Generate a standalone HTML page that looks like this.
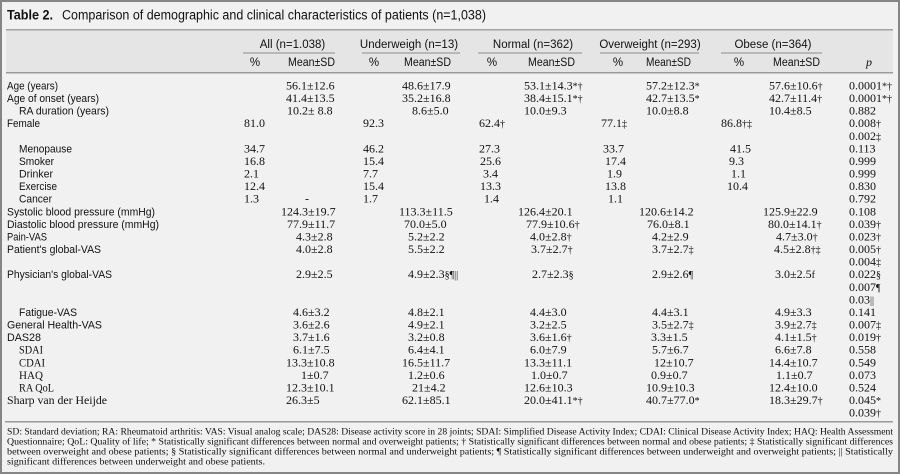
<!DOCTYPE html>
<html><head><meta charset="utf-8">
<style>
html,body{margin:0;padding:0;background:#f1f1f1;}
svg{display:block;}
.n{font-family:"Liberation Serif",serif;font-size:12px;fill:#111;}
.l{font-family:"Liberation Sans",sans-serif;font-size:11px;fill:#111;}
.ls{font-family:"Liberation Serif",serif;font-size:12px;fill:#111;}
.h{font-family:"Liberation Sans",sans-serif;font-size:11.5px;fill:#111;}
.m{font-size:10px;}
.f{font-family:"Liberation Serif",serif;font-size:9px;fill:#111;}
</style></head><body>
<svg width="900" height="474" viewBox="0 0 900 474" xmlns="http://www.w3.org/2000/svg">
<rect x="0" y="0" width="900" height="474" fill="#f1f1f1"/>
<rect x="1" y="1" width="898" height="472" fill="none" stroke="#858585" stroke-width="2"/>

<!-- title -->
<text x="7" y="19.5" font-family="Liberation Sans, sans-serif" font-weight="bold" font-size="13.5" fill="#111" textLength="46" lengthAdjust="spacingAndGlyphs">Table 2.</text>
<text x="62" y="19.5" font-family="Liberation Sans, sans-serif" font-size="13.5" fill="#111" textLength="424" lengthAdjust="spacingAndGlyphs">Comparison of demographic and clinical characteristics of patients (n=1,038)</text>

<!-- header band -->
<rect x="6" y="29" width="887" height="44" fill="#e5e5e6"/>
<rect x="6" y="29" width="887" height="1.5" fill="#a3a3a3"/>
<rect x="6" y="72" width="887" height="1.5" fill="#9a9a9a"/>

<text class="h" x="292.5" y="48" text-anchor="middle">All (n=1.038)</text>
<text class="h" x="409" y="48" text-anchor="middle">Underweigh (n=13)</text>
<text class="h" x="533" y="48" text-anchor="middle">Normal (n=362)</text>
<text class="h" x="650" y="48" text-anchor="middle">Overweight (n=293)</text>
<text class="h" x="773" y="48" text-anchor="middle">Obese (n=364)</text>

<rect x="243" y="52.5" width="92" height="1" fill="#8a8a8a"/>
<rect x="362" y="52.5" width="98" height="1" fill="#8a8a8a"/>
<rect x="478" y="52.5" width="104" height="1" fill="#8a8a8a"/>
<rect x="600" y="52.5" width="99" height="1" fill="#8a8a8a"/>
<rect x="721" y="52.5" width="101" height="1" fill="#8a8a8a"/>

<g class="h">
<text class="h" x="255" y="66" text-anchor="middle">%</text>
<text class="h" x="374" y="66" text-anchor="middle">%</text>
<text class="h" x="492" y="66" text-anchor="middle">%</text>
<text class="h" x="618" y="66" text-anchor="middle">%</text>
<text class="h" x="739" y="66" text-anchor="middle">%</text>
<text class="h" x="288" y="66" textLength="47" lengthAdjust="spacingAndGlyphs">Mean±SD</text>
<text class="h" x="404" y="66" textLength="47" lengthAdjust="spacingAndGlyphs">Mean±SD</text>
<text class="h" x="528" y="66" textLength="47" lengthAdjust="spacingAndGlyphs">Mean±SD</text>
<text class="h" x="646" y="66" textLength="45" lengthAdjust="spacingAndGlyphs">Mean±SD</text>
<text class="h" x="773" y="66" textLength="47" lengthAdjust="spacingAndGlyphs">Mean±SD</text>
</g>
<text x="869" y="66" text-anchor="middle" font-family="Liberation Serif, serif" font-style="italic" font-size="12" fill="#111">p</text>

<!-- rows -->
<g transform="translate(0,89.5)">
<text class="l" x="7" y="0" textLength="51" lengthAdjust="spacingAndGlyphs">Age (years)</text>
<text class="n" x="286" y="0">56.1±12.6</text>
<text class="n" x="402" y="0">48.6±17.9</text>
<text class="n" x="524" y="0">53.1±14.3<tspan class="m">*†</tspan></text>
<text class="n" x="646" y="0">57.2±12.3<tspan class="m">*</tspan></text>
<text class="n" x="769" y="0">57.6±10.6<tspan class="m">†</tspan></text>
<text class="n" x="849" y="0">0.0001<tspan class="m">*†</tspan></text>
</g>
<g transform="translate(0,102.08)">
<text class="l" x="7" y="0" textLength="92" lengthAdjust="spacingAndGlyphs">Age of onset (years)</text>
<text class="n" x="286" y="0">41.4±13.5</text>
<text class="n" x="402" y="0">35.2±16.8</text>
<text class="n" x="524" y="0">38.4±15.1<tspan class="m">*†</tspan></text>
<text class="n" x="646" y="0">42.7±13.5<tspan class="m">*</tspan></text>
<text class="n" x="769" y="0">42.7±11.4<tspan class="m">†</tspan></text>
<text class="n" x="849" y="0">0.0001<tspan class="m">*†</tspan></text>
</g>
<g transform="translate(0,114.66)">
<text class="l" x="19" y="0" textLength="90" lengthAdjust="spacingAndGlyphs">RA duration (years)</text>
<text class="n" x="287" y="0" xml:space="preserve">10.2± 8.8</text>
<text class="n" x="412" y="0">8.6±5.0</text>
<text class="n" x="524" y="0">10.0±9.3</text>
<text class="n" x="646" y="0">10.0±8.8</text>
<text class="n" x="769" y="0">10.4±8.5</text>
<text class="n" x="849" y="0">0.882</text>
</g>
<g transform="translate(0,127.24)">
<text class="l" x="7" y="0" textLength="33" lengthAdjust="spacingAndGlyphs">Female</text>
<text class="n" x="244" y="0">81.0</text>
<text class="n" x="363" y="0">92.3</text>
<text class="n" x="479" y="0">62.4<tspan class="m">†</tspan></text>
<text class="n" x="601" y="0">77.1<tspan class="m">‡</tspan></text>
<text class="n" x="721" y="0">86.8<tspan class="m">†‡</tspan></text>
<text class="n" x="849" y="0">0.008<tspan class="m">†</tspan></text>
</g>
<g transform="translate(0,139.82)">
<text class="n" x="849" y="0">0.002<tspan class="m">‡</tspan></text>
</g>
<g transform="translate(0,152.4)">
<text class="l" x="19" y="0" textLength="53" lengthAdjust="spacingAndGlyphs">Menopause</text>
<text class="n" x="244" y="0">34.7</text>
<text class="n" x="363" y="0">46.2</text>
<text class="n" x="479" y="0">27.3</text>
<text class="n" x="603" y="0">33.7</text>
<text class="n" x="730" y="0">41.5</text>
<text class="n" x="849" y="0">0.113</text>
</g>
<g transform="translate(0,164.98)">
<text class="l" x="19" y="0" textLength="35" lengthAdjust="spacingAndGlyphs">Smoker</text>
<text class="n" x="244" y="0">16.8</text>
<text class="n" x="363" y="0">15.4</text>
<text class="n" x="480" y="0">25.6</text>
<text class="n" x="605" y="0">17.4</text>
<text class="n" x="729" y="0">9.3</text>
<text class="n" x="849" y="0">0.999</text>
</g>
<g transform="translate(0,177.56)">
<text class="l" x="19" y="0" textLength="34" lengthAdjust="spacingAndGlyphs">Drinker</text>
<text class="n" x="244" y="0">2.1</text>
<text class="n" x="363" y="0">7.7</text>
<text class="n" x="483" y="0">3.4</text>
<text class="n" x="607" y="0">1.9</text>
<text class="n" x="731" y="0">1.1</text>
<text class="n" x="849" y="0">0.999</text>
</g>
<g transform="translate(0,190.14)">
<text class="l" x="19" y="0" textLength="38" lengthAdjust="spacingAndGlyphs">Exercise</text>
<text class="n" x="244" y="0">12.4</text>
<text class="n" x="363" y="0">15.4</text>
<text class="n" x="480" y="0">13.3</text>
<text class="n" x="605" y="0">13.8</text>
<text class="n" x="727" y="0">10.4</text>
<text class="n" x="849" y="0">0.830</text>
</g>
<g transform="translate(0,202.72)">
<text class="l" x="19" y="0" textLength="33" lengthAdjust="spacingAndGlyphs">Cancer</text>
<text class="n" x="244" y="0">1.3</text>
<text class="n" x="305" y="0">-</text>
<text class="n" x="363" y="0">1.7</text>
<text class="n" x="484" y="0">1.4</text>
<text class="n" x="608" y="0">1.1</text>
<text class="n" x="849" y="0">0.792</text>
</g>
<g transform="translate(0,215.3)">
<text class="l" x="7" y="0" textLength="148" lengthAdjust="spacingAndGlyphs">Systolic blood pressure (mmHg)</text>
<text class="n" x="281" y="0">124.3±19.7</text>
<text class="n" x="399" y="0">113.3±11.5</text>
<text class="n" x="518" y="0">126.4±20.1</text>
<text class="n" x="639" y="0">120.6±14.2</text>
<text class="n" x="763" y="0">125.9±22.9</text>
<text class="n" x="849" y="0">0.108</text>
</g>
<g transform="translate(0,227.88)">
<text class="l" x="7" y="0" textLength="152" lengthAdjust="spacingAndGlyphs">Diastolic blood pressure (mmHg)</text>
<text class="n" x="287" y="0">77.9±11.7</text>
<text class="n" x="404" y="0">70.0±5.0</text>
<text class="n" x="526" y="0">77.9±10.6<tspan class="m">†</tspan></text>
<text class="n" x="647" y="0">76.0±8.1</text>
<text class="n" x="768" y="0">80.0±14.1<tspan class="m">†</tspan></text>
<text class="n" x="849" y="0">0.039<tspan class="m">†</tspan></text>
</g>
<g transform="translate(0,240.46)">
<text class="l" x="7" y="0" textLength="40" lengthAdjust="spacingAndGlyphs">Pain-VAS</text>
<text class="n" x="296" y="0">4.3±2.8</text>
<text class="n" x="408" y="0">5.2±2.2</text>
<text class="n" x="530" y="0">4.0±2.8<tspan class="m">†</tspan></text>
<text class="n" x="652" y="0">4.2±2.9</text>
<text class="n" x="776" y="0">4.7±3.0<tspan class="m">†</tspan></text>
<text class="n" x="849" y="0">0.023<tspan class="m">†</tspan></text>
</g>
<g transform="translate(0,253.04)">
<text class="l" x="7" y="0" textLength="94" lengthAdjust="spacingAndGlyphs">Patient's global-VAS</text>
<text class="n" x="296" y="0">4.0±2.8</text>
<text class="n" x="408" y="0">5.5±2.2</text>
<text class="n" x="531" y="0">3.7±2.7<tspan class="m">†</tspan></text>
<text class="n" x="652" y="0">3.7±2.7<tspan class="m">‡</tspan></text>
<text class="n" x="774" y="0">4.5±2.8<tspan class="m">†‡</tspan></text>
<text class="n" x="849" y="0">0.005<tspan class="m">†</tspan></text>
</g>
<g transform="translate(0,265.62)">
<text class="n" x="849" y="0">0.004<tspan class="m">‡</tspan></text>
</g>
<g transform="translate(0,278.2)">
<text class="l" x="7" y="0" textLength="105" lengthAdjust="spacingAndGlyphs">Physician's global-VAS</text>
<text class="n" x="296" y="0">2.9±2.5</text>
<text class="n" x="408" y="0">4.9±2.3<tspan class="m">§¶||</tspan></text>
<text class="n" x="532" y="0">2.7±2.3<tspan class="m">§</tspan></text>
<text class="n" x="652" y="0">2.9±2.6<tspan class="m">¶</tspan></text>
<text class="n" x="775" y="0">3.0±2.5<tspan class="m">f</tspan></text>
<text class="n" x="849" y="0">0.022<tspan class="m">§</tspan></text>
</g>
<g transform="translate(0,290.78)">
<text class="n" x="849" y="0">0.007<tspan class="m">¶</tspan></text>
</g>
<g transform="translate(0,303.36)">
<text class="n" x="849" y="0">0.03<tspan class="m">||</tspan></text>
</g>
<g transform="translate(0,315.94)">
<text class="l" x="19" y="0" textLength="58" lengthAdjust="spacingAndGlyphs">Fatigue-VAS</text>
<text class="n" x="293" y="0">4.6±3.2</text>
<text class="n" x="408" y="0">4.8±2.1</text>
<text class="n" x="530" y="0">4.4±3.0</text>
<text class="n" x="652" y="0">4.4±3.1</text>
<text class="n" x="775" y="0">4.9±3.3</text>
<text class="n" x="849" y="0">0.141</text>
</g>
<g transform="translate(0,328.52)">
<text class="l" x="7" y="0" textLength="95" lengthAdjust="spacingAndGlyphs">General Health-VAS</text>
<text class="n" x="293" y="0">3.6±2.6</text>
<text class="n" x="408" y="0">4.9±2.1</text>
<text class="n" x="530" y="0">3.2±2.5</text>
<text class="n" x="652" y="0">3.5±2.7<tspan class="m">‡</tspan></text>
<text class="n" x="775" y="0">3.9±2.7<tspan class="m">‡</tspan></text>
<text class="n" x="849" y="0">0.007<tspan class="m">‡</tspan></text>
</g>
<g transform="translate(0,341.1)">
<text class="l" x="7" y="0" textLength="34" lengthAdjust="spacingAndGlyphs">DAS28</text>
<text class="n" x="293" y="0">3.7±1.6</text>
<text class="n" x="408" y="0">3.2±0.8</text>
<text class="n" x="530" y="0">3.6±1.6<tspan class="m">†</tspan></text>
<text class="n" x="651" y="0">3.3±1.5</text>
<text class="n" x="775" y="0">4.1±1.5<tspan class="m">†</tspan></text>
<text class="n" x="849" y="0">0.019<tspan class="m">†</tspan></text>
</g>
<g transform="translate(0,353.68)">
<text class="ls" x="19" y="0" textLength="24" lengthAdjust="spacingAndGlyphs">SDAI</text>
<text class="n" x="293" y="0">6.1±7.5</text>
<text class="n" x="408" y="0">6.4±4.1</text>
<text class="n" x="530" y="0">6.0±7.9</text>
<text class="n" x="652" y="0">5.7±6.7</text>
<text class="n" x="775" y="0">6.6±7.8</text>
<text class="n" x="849" y="0">0.558</text>
</g>
<g transform="translate(0,366.26)">
<text class="ls" x="19" y="0" textLength="26" lengthAdjust="spacingAndGlyphs">CDAI</text>
<text class="n" x="286" y="0">13.3±10.8</text>
<text class="n" x="402" y="0">16.5±11.7</text>
<text class="n" x="524" y="0">13.3±11.1</text>
<text class="n" x="654" y="0">12±10.7</text>
<text class="n" x="769" y="0">14.4±10.7</text>
<text class="n" x="849" y="0">0.549</text>
</g>
<g transform="translate(0,378.84)">
<text class="ls" x="19" y="0" textLength="24" lengthAdjust="spacingAndGlyphs">HAQ</text>
<text class="n" x="301" y="0">1±0.7</text>
<text class="n" x="408" y="0">1.2±0.6</text>
<text class="n" x="531" y="0">1.0±0.7</text>
<text class="n" x="651" y="0">0.9±0.7</text>
<text class="n" x="776" y="0">1.1±0.7</text>
<text class="n" x="849" y="0">0.073</text>
</g>
<g transform="translate(0,391.42)">
<text class="ls" x="19" y="0" textLength="35" lengthAdjust="spacingAndGlyphs">RA QoL</text>
<text class="n" x="286" y="0">12.3±10.1</text>
<text class="n" x="412" y="0">21±4.2</text>
<text class="n" x="524" y="0">12.6±10.3</text>
<text class="n" x="646" y="0">10.9±10.3</text>
<text class="n" x="769" y="0">12.4±10.0</text>
<text class="n" x="849" y="0">0.524</text>
</g>
<g transform="translate(0,404)">
<text class="ls" x="7" y="0" textLength="100" lengthAdjust="spacingAndGlyphs">Sharp van der Heijde</text>
<text class="n" x="286" y="0">26.3±5</text>
<text class="n" x="402" y="0">62.1±85.1</text>
<text class="n" x="524" y="0">20.0±41.1<tspan class="m">*†</tspan></text>
<text class="n" x="646" y="0">40.7±77.0<tspan class="m">*</tspan></text>
<text class="n" x="769" y="0">18.3±29.7<tspan class="m">†</tspan></text>
<text class="n" x="849" y="0">0.045<tspan class="m">*</tspan></text>
</g>
<g transform="translate(0,416.58)">
<text class="n" x="849" y="0">0.039<tspan class="m">†</tspan></text>
</g>

<!-- bottom separator -->
<rect x="5" y="421" width="888" height="1.5" fill="#9a9a9a"/>

<!-- footnotes -->
<text class="f" x="7" y="434.3" textLength="886" lengthAdjust="spacingAndGlyphs">SD: Standard deviation; RA: Rheumatoid arthritis: VAS: Visual analog scale; DAS28: Disease activity score in 28 joints; SDAI: Simplified Disease Activity Index; CDAI: Clinical Disease Activity Index; HAQ: Health Assessment</text>
<text class="f" x="7" y="444.3" textLength="886" lengthAdjust="spacingAndGlyphs">Questionnaire; QoL: Quality of life; * Statistically significant differences between normal and overweight patients; † Statistically significant differences between normal and obese patients; ‡ Statistically significant differences</text>
<text class="f" x="7" y="454.3" textLength="886" lengthAdjust="spacingAndGlyphs">between overweight and obese patients; § Statistically significant differences between normal and underweight patients; ¶ Statistically significant differences between underweight and overweight patients; || Statistically</text>
<text class="f" x="7" y="464.3" textLength="258" lengthAdjust="spacingAndGlyphs">significant differences between underweight and obese patients.</text>
</svg>
</body></html>
